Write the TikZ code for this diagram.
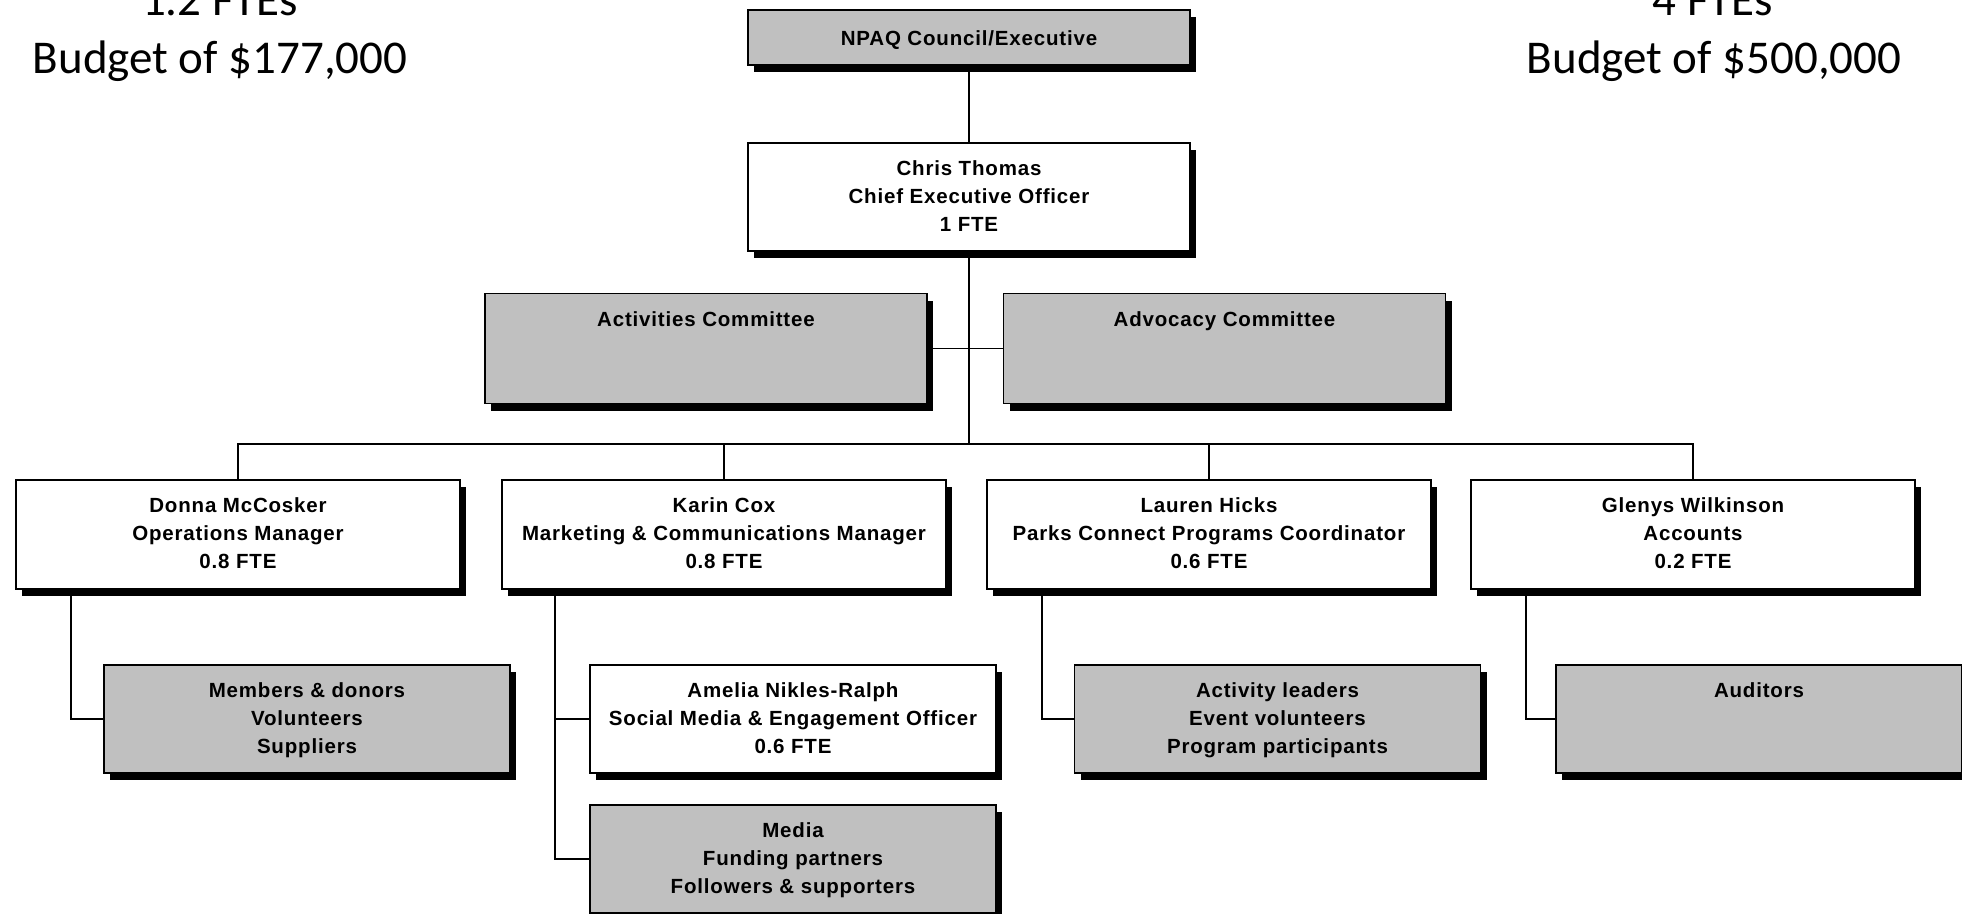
\documentclass[tikz,border=0pt]{standalone}
\usepackage{fontspec}
\newfontfamily\boxfont[LetterSpace=4]{Liberation Sans}
\newfontfamily\cornerfont{Carlito}
\usetikzlibrary{shadows}
\definecolor{boxgray}{RGB}{192,192,192}
\begin{document}
\begin{tikzpicture}[x=1pt,y=-1pt,
  box/.style={draw=black, line width=1.4pt, outer sep=0pt, inner sep=0pt,
    general shadow={fill=black, shadow xshift=6pt, shadow yshift=-7pt}},
  wbox/.style={box, fill=white},
  gbox/.style={box, fill=boxgray},
  topsize/.style={minimum width=442pt, minimum height=55pt},
  ceosize/.style={minimum width=442pt, minimum height=108pt},
  comsize/.style={minimum width=442pt, minimum height=110pt},
  lvlsize/.style={minimum width=444pt, minimum height=109pt},
  subsize/.style={minimum width=406pt, minimum height=108pt},
  tl/.style={font=\boxfont\bfseries\fontsize{20.5pt}{28pt}\selectfont, align=center, inner sep=0pt, anchor=north},
  corner/.style={font=\cornerfont\fontsize{47pt}{58pt}\selectfont, inner sep=0pt, anchor=base},
  conn/.style={draw=black, line width=1.4pt}
]
\clip (0,0) rectangle (1962,913);
\fill[white] (0,0) rectangle (1962,913);

% corner texts
\node[corner] (lfte) at (220,15) {1.2 FTEs};
\node[corner] (lbud) at (220,73) {Budget of \$177,000};
\node[corner] (rfte) at (1713,15) {4 FTEs};
\node[corner] (rbud) at (1714,73) {Budget of \$500,000};

% boxes
\node[gbox, topsize] (npaq) at (969,37.5) {};
\node[wbox, ceosize] (ceo) at (969,197) {};
\node[gbox, comsize] (act) at (706,348.5) {};
\node[gbox, comsize] (adv) at (1224.5,348.5) {};
\node[wbox, lvlsize] (donna) at (238,534.5) {};
\node[wbox, lvlsize] (karin) at (724,534.5) {};
\node[wbox, lvlsize] (lauren) at (1209,534.5) {};
\node[wbox, lvlsize] (glenys) at (1693,534.5) {};
\node[gbox, subsize] (members) at (307,719) {};
\node[wbox, subsize] (amelia) at (793,719) {};
\node[gbox, subsize] (media) at (793,859) {};
\node[gbox, subsize] (actl) at (1277.5,719) {};
\node[gbox, subsize] (aud) at (1759,719) {};

% connectors
\coordinate (bar) at (969,444);
\draw[conn] (npaq.south) -- (ceo.north);
\draw[conn] (ceo.south) -- (bar);
\draw[conn] (act.east) -- (adv.west);
\draw[conn] (donna.north) |- (glenys.north |- bar) -- (glenys.north);
\draw[conn] (karin.north) -- (karin.north |- bar);
\draw[conn] (lauren.north) -- (lauren.north |- bar);
\draw[conn] ([xshift=55pt]donna.south west) |- (members.west);
\draw[conn] ([xshift=53pt]karin.south west) |- (amelia.west);
\draw[conn] ([xshift=53pt]karin.south west) |- (media.west);
\draw[conn] ([xshift=55pt]lauren.south west) |- (actl.west);
\draw[conn] ([xshift=55pt]glenys.south west) |- (aud.west);

% texts
\node[tl] (npaq-t) at ([yshift=-20pt]npaq.north) {NPAQ Council/Executive};
\node[tl] (ceo-t) at ([yshift=-17.5pt]ceo.north) {Chris Thomas\\Chief Executive Officer\\1 FTE};
\node[tl] (act-t) at ([yshift=-17.5pt]act.north) {Activities Committee};
\node[tl] (adv-t) at ([yshift=-17.5pt]adv.north) {Advocacy Committee};
\node[tl] (donna-t) at ([yshift=-17.5pt]donna.north) {Donna McCosker\\Operations Manager\\0.8 FTE};
\node[tl] (karin-t) at ([yshift=-17.5pt]karin.north) {Karin Cox\\Marketing \& Communications Manager\\0.8 FTE};
\node[tl] (lauren-t) at ([yshift=-17.5pt]lauren.north) {Lauren Hicks\\Parks Connect Programs Coordinator\\0.6 FTE};
\node[tl] (glenys-t) at ([yshift=-17.5pt]glenys.north) {Glenys Wilkinson\\Accounts\\0.2 FTE};
\node[tl] (members-t) at ([yshift=-17.5pt]members.north) {Members \& donors\\Volunteers\\Suppliers};
\node[tl] (amelia-t) at ([yshift=-17.5pt]amelia.north) {Amelia Nikles-Ralph\\Social Media \& Engagement Officer\\0.6 FTE};
\node[tl] (media-t) at ([yshift=-17.5pt]media.north) {Media\\Funding partners\\Followers \& supporters};
\node[tl] (actl-t) at ([yshift=-17.5pt]actl.north) {Activity leaders\\Event volunteers\\Program participants};
\node[tl] (aud-t) at ([yshift=-17.5pt]aud.north) {Auditors};
\end{tikzpicture}
\end{document}
